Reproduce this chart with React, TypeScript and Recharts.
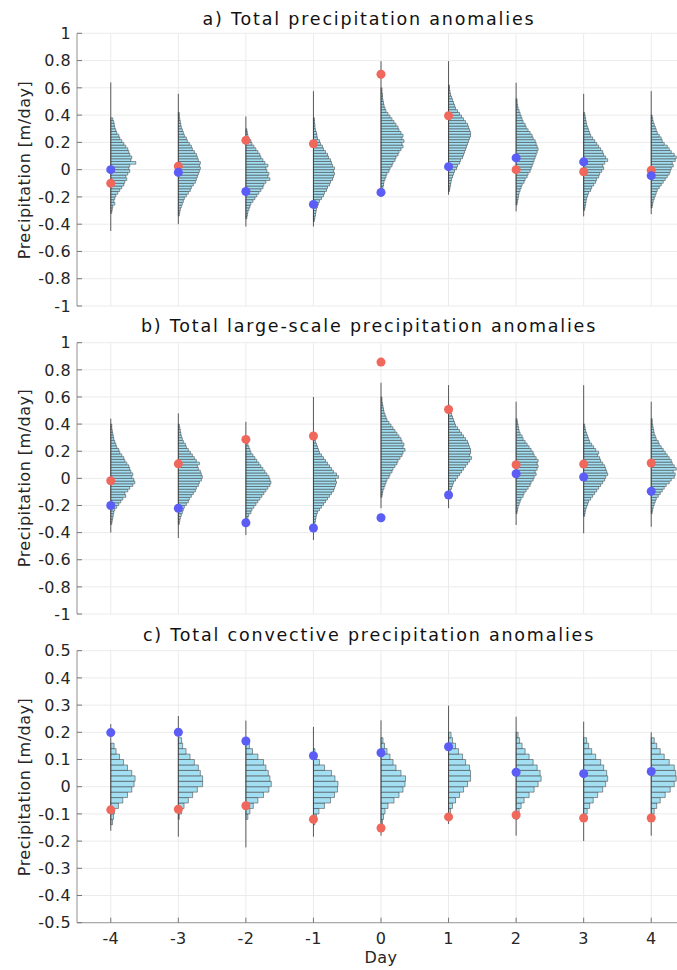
import {
  ComposedChart,
  CartesianGrid,
  XAxis,
  YAxis,
  ZAxis,
  Scatter,
  ReferenceArea,
  ReferenceLine,
} from "recharts";

const DAYS = [-4, -3, -2, -1, 0, 1, 2, 3, 4];
const TICKS_AB = [-1, -0.8, -0.6, -0.4, -0.2, 0, 0.2, 0.4, 0.6, 0.8, 1];
const TICKS_C = [-0.5, -0.4, -0.3, -0.2, -0.1, 0, 0.1, 0.2, 0.3, 0.4, 0.5];
const BIN = 0.02;
// histogram bar length -> day units
const HIST_SCALE = 1 / 67.5;

// a) total precipitation
const A_RED = [-0.1, 0.025, 0.215, 0.19, 0.7, 0.395, 0.0, -0.015, -0.005];
const A_BLUE = [0.0, -0.02, -0.16, -0.255, -0.167, 0.022, 0.086, 0.057, -0.044];
const A_TAIL_LO = [-0.45, -0.4, -0.417, -0.417, -0.2, -0.184, -0.306, -0.343, -0.326];
const A_TAIL_HI = [0.64, 0.556, 0.39, 0.576, 0.796, 0.796, 0.637, 0.556, 0.576];
const A_BIN_START = [-0.32, -0.34, -0.36, -0.38, -0.18, -0.16, -0.26, -0.3, -0.28];
const A_COUNTS = [
  [1, 1.5, 2, 4, 3, 4, 5, 7, 9, 11, 13, 14, 16, 15, 17, 19, 18, 19, 25, 20, 21, 19, 18, 17, 15, 13, 11, 9, 8, 6, 5, 4, 3.5, 3, 2],
  [1, 1.5, 2, 3, 4, 5, 6, 8, 10, 12, 13, 15, 17, 18, 19, 20, 21, 22, 21, 22, 20, 19, 18, 16, 14, 13, 11, 9, 8, 6, 5, 4, 3, 2.5, 2, 1.5, 1, 1],
  [1, 1.5, 2, 3, 4, 5, 7, 9, 11, 13, 15, 17, 18, 20, 24, 22, 23, 21, 20, 22, 19, 17, 15, 14, 12, 10, 8, 6, 5, 3, 2, 1.5, 1],
  [1, 1.5, 2, 2.5, 3, 4, 5, 6, 8, 10, 11, 13, 14, 16, 17, 19, 20, 21, 20, 21, 19, 18, 17, 15, 14, 12, 10, 9, 7, 6, 4, 3.5, 3, 2, 1.5, 1.5, 1, 1],
  [1, 1.5, 2, 2.5, 3, 4, 5, 6, 8, 9, 11, 12, 14, 15, 17, 18, 20, 22, 21, 23, 21, 22, 20, 18, 17, 15, 13, 11, 9, 7, 5, 4, 3, 2.5, 2, 1.5, 1.5, 1, 1],
  [1, 1.5, 2, 2.5, 3, 4, 5, 6, 8, 9, 11, 12, 14, 15, 16, 17, 18, 19, 20, 21, 22, 22, 21, 20, 19, 17, 15, 13, 11, 9, 7, 6, 5, 4, 3, 2, 1.5, 1, 1],
  [1, 1.5, 2, 2.5, 3, 4, 5, 6, 8, 9, 11, 12, 14, 15, 16, 17, 18, 19, 20, 21, 22, 21, 20, 19, 17, 16, 14, 12, 10, 9, 7, 6, 5, 4, 3, 2, 1.5, 1, 1],
  [1, 1.5, 2, 2.5, 3, 4, 5, 7, 8, 10, 12, 13, 15, 16, 18, 20, 19, 21, 24, 22, 20, 19, 17, 15, 13, 11, 9, 7, 6, 5, 4, 3, 2.5, 2, 1.5, 1],
  [1, 1.5, 2, 3, 4, 5, 6, 8, 10, 12, 14, 16, 18, 19, 20, 22, 21, 24, 25, 23, 20, 18, 16, 13, 11, 10, 8, 6, 5, 4, 3, 2, 1.5, 1],
];

// b) large-scale precipitation
const B_RED = [-0.018, 0.107, 0.287, 0.312, 0.857, 0.508, 0.1, 0.105, 0.113];
const B_BLUE = [-0.2, -0.22, -0.327, -0.366, -0.29, -0.123, 0.034, 0.01, -0.096];
const B_TAIL_LO = [-0.4, -0.44, -0.418, -0.455, -0.22, -0.22, -0.344, -0.405, -0.357];
const B_TAIL_HI = [0.44, 0.479, 0.417, 0.6, 0.705, 0.687, 0.565, 0.687, 0.565];
const B_BIN_START = [-0.34, -0.34, -0.34, -0.36, -0.14, -0.14, -0.26, -0.28, -0.26];
const B_COUNTS = [
  [1, 1.5, 2, 2.5, 3, 4, 6, 8, 10, 12, 15, 14, 17, 19, 22, 24, 23, 21, 22, 20, 19, 18, 16, 14, 13, 11, 9, 8, 6, 5, 4, 3, 2.5, 2, 1.5, 1, 1],
  [1, 1.5, 2, 3, 4, 5, 6, 8, 10, 11, 13, 15, 17, 18, 20, 21, 23, 24, 23, 22, 20, 19, 21, 18, 16, 14, 12, 10, 8, 7, 5, 4, 3, 2.5, 2, 1.5, 1],
  [1, 1.5, 2, 3, 5, 6, 8, 10, 12, 14, 16, 18, 20, 22, 24, 25, 24, 23, 21, 19, 17, 15, 13, 11, 9, 7, 5, 4, 3, 2, 1.5, 1],
  [1, 1.5, 2, 2.5, 3, 4, 6, 8, 10, 12, 14, 16, 18, 20, 21, 22, 23, 22, 25, 23, 20, 18, 16, 14, 12, 10, 8, 6, 5, 4, 3, 2, 1.5, 1],
  [1, 1.5, 2, 3, 4, 5, 6, 8, 9, 11, 12, 14, 16, 17, 19, 21, 22, 24, 22, 23, 21, 20, 18, 16, 14, 12, 10, 8, 6, 5, 4, 3, 2.5, 2, 1.5, 1, 1],
  [1, 1.5, 2, 3, 4, 5, 7, 9, 11, 13, 15, 17, 19, 21, 23, 21, 22, 22, 21, 20, 19, 17, 15, 13, 11, 9, 7, 6, 5, 4, 3, 2, 1.5, 1],
  [1, 1.5, 2, 3, 4, 5, 7, 8, 10, 12, 14, 15, 17, 18, 20, 19, 21, 22, 21, 22, 20, 18, 17, 15, 13, 11, 9, 7, 6, 4, 3, 2.5, 2, 1.5, 1],
  [1, 1.5, 2, 3, 4, 5, 7, 9, 11, 13, 15, 17, 19, 21, 22, 24, 23, 22, 21, 19, 17, 16, 14, 15, 12, 10, 8, 6, 5, 4, 3, 2, 1.5, 1],
  [1, 1.5, 2, 3, 4, 5, 7, 9, 11, 13, 15, 18, 20, 23, 24, 22, 25, 23, 21, 20, 18, 16, 14, 12, 10, 8, 7, 5, 4, 3, 2.5, 2, 1.5, 1, 1],
];

// c) convective precipitation
const C_RED = [-0.085, -0.083, -0.07, -0.12, -0.152, -0.111, -0.104, -0.115, -0.115];
const C_BLUE = [0.199, 0.2, 0.168, 0.114, 0.125, 0.147, 0.053, 0.048, 0.056];
const C_TAIL_LO = [-0.162, -0.184, -0.223, -0.184, -0.18, -0.137, -0.18, -0.2, -0.18];
const C_TAIL_HI = [0.23, 0.26, 0.243, 0.22, 0.244, 0.298, 0.257, 0.239, 0.2];
const C_BIN_START = [-0.14, -0.12, -0.12, -0.14, -0.14, -0.1, -0.12, -0.12, -0.12];
const C_COUNTS = [
  [1.7, 2.7, 3.7, 7.7, 12, 16.7, 21, 23.3, 24.3, 21, 16.7, 12.7, 8.7, 5.3, 3.3],
  [1, 3.3, 5.7, 10, 14.3, 19, 24.3, 24.3, 22, 20, 16, 11.7, 7.7, 4.3, 3.3],
  [2, 4, 7.4, 12, 17.6, 23, 25.4, 24, 22.4, 20, 17.6, 12, 6.6, 3.5, 1.5],
  [1.5, 3, 5.5, 11, 17, 21, 24, 24.5, 21.5, 18, 11, 6, 3, 1.5],
  [1.5, 2.5, 4, 7, 13, 18, 22, 24, 24.5, 20, 15, 12, 9, 6, 3.5, 2],
  [2, 4, 7, 11, 15, 19, 22, 22, 21, 17, 14, 10, 7, 4, 2.5],
  [1.5, 3, 5, 8, 13, 18, 22, 25, 24, 21, 17, 13, 9, 6, 3.5, 2],
  [2, 3.5, 6, 9.5, 14, 19, 22, 24, 23, 20, 17, 12, 8, 5, 3],
  [1.5, 3, 5.5, 9, 14, 19, 23, 25, 24.5, 23, 18, 13, 9, 5.5, 3],
];

const FONT = "DejaVu Sans";
const AXIS = "#9a9a9a";
const TICK_LINE = "#777";
const GRID = "#ebebeb";
const FILL = "#a3dff2";
const EDGE = "#333";
const RED = "#f0675c";
const BLUE = "#5c5cf6";

function fmtTick(v: number) {
  return String(Number(v.toFixed(1)));
}

const blank = () => "";

type PanelProps = {
  top: number;
  height: number;
  marginTop: number;
  marginBottom: number;
  domain: [number, number];
  ticks: number[];
  red: number[];
  blue: number[];
  tailLo: number[];
  tailHi: number[];
  binStart: number[];
  counts: number[][];
  showX?: boolean;
};

function Panel(p: PanelProps) {
  const redPts = DAYS.map((d, i) => ({ x: d, y: p.red[i] }));
  const bluePts = DAYS.map((d, i) => ({ x: d, y: p.blue[i] }));
  const tick = { fontFamily: FONT, fontSize: 16, fill: "#262626", letterSpacing: 0.4 };

  return (
    <div style={{ position: "absolute", left: 0, top: p.top }}>
      <ComposedChart
        width={685}
        height={p.height}
        margin={{ top: p.marginTop, right: 0, bottom: p.marginBottom, left: 0 }}
      >
        <CartesianGrid stroke={GRID} strokeWidth={1} />
        <XAxis
          type="number"
          dataKey="x"
          domain={[-4.5, 4.5]}
          ticks={DAYS}
          interval={0}
          height={p.showX ? 40 : 0}
          tick={tick}
          tickFormatter={p.showX ? undefined : blank}
          tickLine={{ stroke: TICK_LINE }}
          tickSize={-5}
          tickMargin={15}
          axisLine={{ stroke: AXIS }}
        />
        <XAxis
          xAxisId="top"
          orientation="top"
          type="number"
          domain={[-4.5, 4.5]}
          ticks={DAYS}
          interval={0}
          height={0}
          tick={tick}
          tickFormatter={blank}
          tickLine={{ stroke: TICK_LINE }}
          tickSize={-5}
          axisLine={{ stroke: AXIS }}
        />
        <YAxis
          type="number"
          dataKey="y"
          domain={p.domain}
          ticks={p.ticks}
          interval={0}
          width={77}
          tick={tick}
          tickFormatter={fmtTick}
          tickLine={{ stroke: TICK_LINE }}
          tickSize={-5}
          tickMargin={11}
          axisLine={{ stroke: AXIS }}
        />
        <ZAxis range={[70, 70]} />

        {DAYS.map((d, di) =>
          p.counts[di].map((c, bi) => (
            <ReferenceArea
              key={`h${di}-${bi}`}
              x1={d}
              x2={d + c * HIST_SCALE}
              y1={p.binStart[di] + bi * BIN}
              y2={p.binStart[di] + (bi + 1) * BIN}
              fill={FILL}
              fillOpacity={1}
              stroke={EDGE}
              strokeWidth={0.5}
              ifOverflow="visible"
            />
          ))
        )}
        {DAYS.map((d, di) => (
          <ReferenceLine
            key={`t${di}`}
            segment={[
              { x: d, y: p.tailLo[di] },
              { x: d, y: p.tailHi[di] },
            ]}
            stroke={EDGE}
            strokeWidth={0.8}
            ifOverflow="visible"
          />
        ))}

        <Scatter data={redPts} fill={RED} isAnimationActive={false} />
        <Scatter data={bluePts} fill={BLUE} isAnimationActive={false} />
      </ComposedChart>
    </div>
  );
}

const TITLES = [
  "a) Total precipitation anomalies",
  "b) Total large-scale precipitation anomalies",
  "c) Total convective precipitation anomalies",
];
const TITLE_Y = [25, 332, 641];
const PANEL_MID = [170, 478, 787];

export default function App() {
  return (
    <div
      style={{
        position: "absolute",
        left: 0,
        top: 0,
        width: 677,
        height: 970,
        overflow: "hidden",
        background: "#fff",
      }}
    >
      <Panel
        top={0}
        height={320}
        marginTop={33.3}
        marginBottom={14}
        domain={[-1, 1]}
        ticks={TICKS_AB}
        red={A_RED}
        blue={A_BLUE}
        tailLo={A_TAIL_LO}
        tailHi={A_TAIL_HI}
        binStart={A_BIN_START}
        counts={A_COUNTS}
      />
      <Panel
        top={310}
        height={320}
        marginTop={32.7}
        marginBottom={16}
        domain={[-1, 1]}
        ticks={TICKS_AB}
        red={B_RED}
        blue={B_BLUE}
        tailLo={B_TAIL_LO}
        tailHi={B_TAIL_HI}
        binStart={B_BIN_START}
        counts={B_COUNTS}
      />
      <Panel
        top={620}
        height={350}
        marginTop={30.7}
        marginBottom={7.3}
        domain={[-0.5, 0.5]}
        ticks={TICKS_C}
        red={C_RED}
        blue={C_BLUE}
        tailLo={C_TAIL_LO}
        tailHi={C_TAIL_HI}
        binStart={C_BIN_START}
        counts={C_COUNTS}
        showX
      />
      <svg
        width={677}
        height={970}
        style={{ position: "absolute", left: 0, top: 0, pointerEvents: "none" }}
      >
        {TITLES.map((t, i) => (
          <text
            key={t}
            x={369}
            y={TITLE_Y[i]}
            textAnchor="middle"
            fontFamily={FONT}
            fontSize={17.5}
            letterSpacing={1.8}
            fill="#111"
          >
            {t}
          </text>
        ))}
        {PANEL_MID.map((m) => (
          <text
            key={m}
            x={29.5}
            y={m}
            transform={`rotate(-90 29.5 ${m})`}
            textAnchor="middle"
            fontFamily={FONT}
            fontSize={16}
            letterSpacing={0.5}
            fill="#262626"
          >
            Precipitation [m/day]
          </text>
        ))}
        <text
          x={381}
          y={963}
          textAnchor="middle"
          fontFamily={FONT}
          fontSize={16}
          letterSpacing={0.5}
          fill="#262626"
        >
          Day
        </text>
      </svg>
    </div>
  );
}
